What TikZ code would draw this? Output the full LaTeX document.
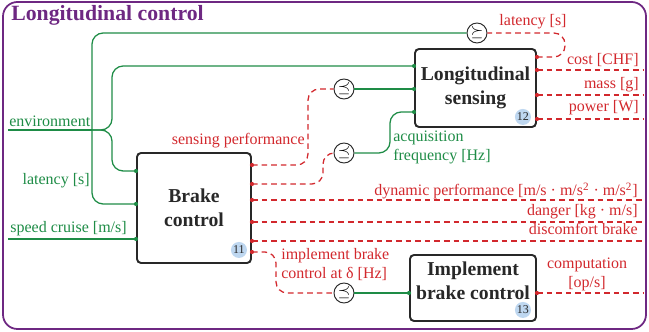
\documentclass[tikz,border=0pt]{standalone}
\usepackage{fontspec}
\setmainfont{Liberation Serif}
\usepackage{amssymb}
\usetikzlibrary{calc,positioning}
\definecolor{ngreen}{RGB}{30,140,70}
\definecolor{nred}{RGB}{210,40,45}
\definecolor{purp}{RGB}{110,40,130}
\definecolor{badgeblue}{RGB}{190,215,240}
\definecolor{boxgray}{RGB}{40,40,40}
\tikzset{
    blk/.style={draw=boxgray, line width=1.2pt, rounded corners=2.5pt, fill=white,
        font=\fontsize{12.3}{15}\selectfont\bfseries, align=center, text=boxgray},
    badge/.style={circle, fill=badgeblue, inner sep=0pt, minimum size=10pt,
        font=\fontsize{7.5}{8}\selectfont, text=boxgray},
    cmp/.style={circle, draw=boxgray, line width=0.6pt, inner sep=0pt, minimum size=12.5pt, fill=white},
    gline/.style={ngreen, line width=0.8pt, rounded corners=7pt},
    rline/.style={nred, line width=0.8pt, dash pattern=on 3.5pt off 2.5pt, rounded corners=7pt},
    glab/.style={ngreen, font=\fontsize{10}{12}\selectfont, inner sep=0pt, align=left},
    rlab/.style={nred, font=\fontsize{10}{12}\selectfont, inner sep=0pt},
}
\begin{document}
\begin{tikzpicture}[x=0.625pt, y=-0.625pt]
                        \useasboundingbox (0,0) rectangle (649,332);
                        \draw[purp, line width=1.1pt, rounded corners=9pt] (3,2) rectangle (646,329);
                        \node[purp, font=\fontsize{13.6}{16}\selectfont\bfseries, anchor=base west, inner sep=0pt] (title) at (11,21) {Longitudinal control};
                        % blocks
                        \node[blk, minimum width=75.6pt, minimum height=48.75pt] (sens) at (475.5,88) {Longitudinal\\sensing};
                        \node[blk, minimum width=71.25pt, minimum height=68.75pt] (brake) at (194,208) {Brake\\control};
                        \node[blk, minimum width=78.75pt, minimum height=41.25pt] (impl) at (473,288) {};
                        \node[font=\fontsize{12.3}{15}\selectfont\bfseries, align=center, text=boxgray] (impltxt) at ($(impl.center)+(0,-7)$) {Implement\\brake control};
                        \node[badge] (b12) at ($(sens.south east)+(-14,-11)$) {12};
                        \node[badge] (b11) at ($(brake.south east)+(-13,-14)$) {11};
                        \node[badge] (b13) at ($(impl.south east)+(-14,-12)$) {13};
                        % comparators
                        \node[cmp] (cmpl) at (477,33) {$\succeq$};
                        \node[cmp] (cmps) at (344,89) {$\preceq$};
                        \node[cmp] (cmpa) at (344,153) {$\preceq$};
                        \node[cmp] (cmpi) at (344,293) {$\preceq$};
                        % ports
                        \coordinate (sin1) at (sens.west |- 0,66);
                        \coordinate (sin2) at (sens.west |- 0,89);
                        \coordinate (sin3) at (sens.west |- 0,112);
                        \coordinate (sout1) at (sens.east |- 0,57);
                        \coordinate (sout2) at (sens.east |- 0,70);
                        \coordinate (sout3) at (sens.east |- 0,95);
                        \coordinate (sout4) at (sens.east |- 0,119);
                        \coordinate (bin1) at (brake.west |- 0,171);
                        \coordinate (bin2) at (brake.west |- 0,204);
                        \coordinate (bin3) at (brake.west |- 0,239);
                        \coordinate (bout1) at (brake.east |- 0,165);
                        \coordinate (bout2) at (brake.east |- 0,184);
                        \coordinate (bout3) at (brake.east |- 0,200);
                        \coordinate (bout4) at (brake.east |- 0,222);
                        \coordinate (bout5) at (brake.east |- 0,241);
                        \coordinate (bout6) at (brake.east |- 0,252);
                        \coordinate (iin) at (impl.west |- 0,293);
                        \coordinate (iout) at (impl.east |- 0,293);
                        % free ends
                        \coordinate (envin) at (8,130);
                        \coordinate (envj) at (92,130);
                        \coordinate (spdin) at (8,239);
                        \foreach \n/\y in {cost/70, mass/95, power/119, dyn/200, danger/222, disc/241, comp/293}
                            \coordinate (end\n) at (643,\y);
                        % green links
                        \draw[gline] (envin) -- (envj);
                        \draw[gline] (envj) -| (112,66) -- (sin1);
                        \draw[gline] (envj) -| (112,171) -- (bin1);
                        \draw[gline] (cmpl.west) -| (92,204) -- (bin2);
                        \draw[gline] (spdin) -- (bin3);
                        \draw[gline] (cmps.east) -- (sin2);
                        \draw[gline] (cmpa.east) -| (390,112) -- (sin3);
                        \draw[gline] (cmpi.east) -- (iin);
                        % red links
                        \draw[rline] (sout1) -| (565,33) -- (cmpl.east);
                        \draw[rline] (bout1) -| (308,89) -- (cmps.west);
                        \draw[rline] (bout2) -| (323,153) -- (cmpa.west);
                        \draw[rline] (bout6) -| (276,293) -- (cmpi.west);
                        \draw[rline]
                        (sout2) -- (endcost) (sout3) -- (endmass) (sout4) -- (endpower)
                        (bout3) -- (enddyn) (bout4) -- (enddanger) (bout5) -- (enddisc)
                        (iout) -- (endcomp);
                        \foreach \p in {sin1,sin2,sin3,bin1,bin2,bin3,iin}
                            \fill[ngreen] (\p) circle (1.3pt);
                        \foreach \p in {sout1,sout2,sout3,sout4,bout1,bout2,bout3,bout4,bout5,bout6,iout}
                            \fill[nred] (\p) circle (1.3pt);
                        % labels
                        \node[glab, anchor=base west] (envlab) at (9,127) {environment};
                        \node[glab, anchor=base east] (latlab) at (90,185) {latency [s]};
                        \node[glab, anchor=base west] (spdlab) at (10,233) {speed cruise [m/s]};
                        \node[glab, anchor=base west] (acqlab) at (393,161) {acquisition\\frequency [Hz]};
                        \node[rlab, anchor=base east] (sperflab) at (305,145) {sensing performance};
                        \node[rlab, anchor=base] (latrlab) at (533,26) {latency [s]};
                        \node[rlab, anchor=base east] (costlab) at (639,65) {cost [CHF]};
                        \node[rlab, anchor=base east] (masslab) at (639,89) {mass [g]};
                        \node[rlab, anchor=base east] (powerlab) at (639,112) {power [W]};
                        \node[rlab, anchor=base east] (dynlab) at (638,196) {dynamic performance [m/s · m/s\textsuperscript{2} · m/s\textsuperscript{2}]};
                        \node[rlab, anchor=base east] (dangerlab) at (638,216) {danger [kg · m/s]};
                        \node[rlab, anchor=base east] (disclab) at (638,235) {discomfort brake};
                        \node[rlab, anchor=base west, align=left] (impllab) at (281,279) {implement brake\\control at δ [Hz]};
                        \node[rlab, anchor=base, align=center] (complab) at (587,288) {computation\\{[op/s]}};
                    \end{tikzpicture}
\end{document}
